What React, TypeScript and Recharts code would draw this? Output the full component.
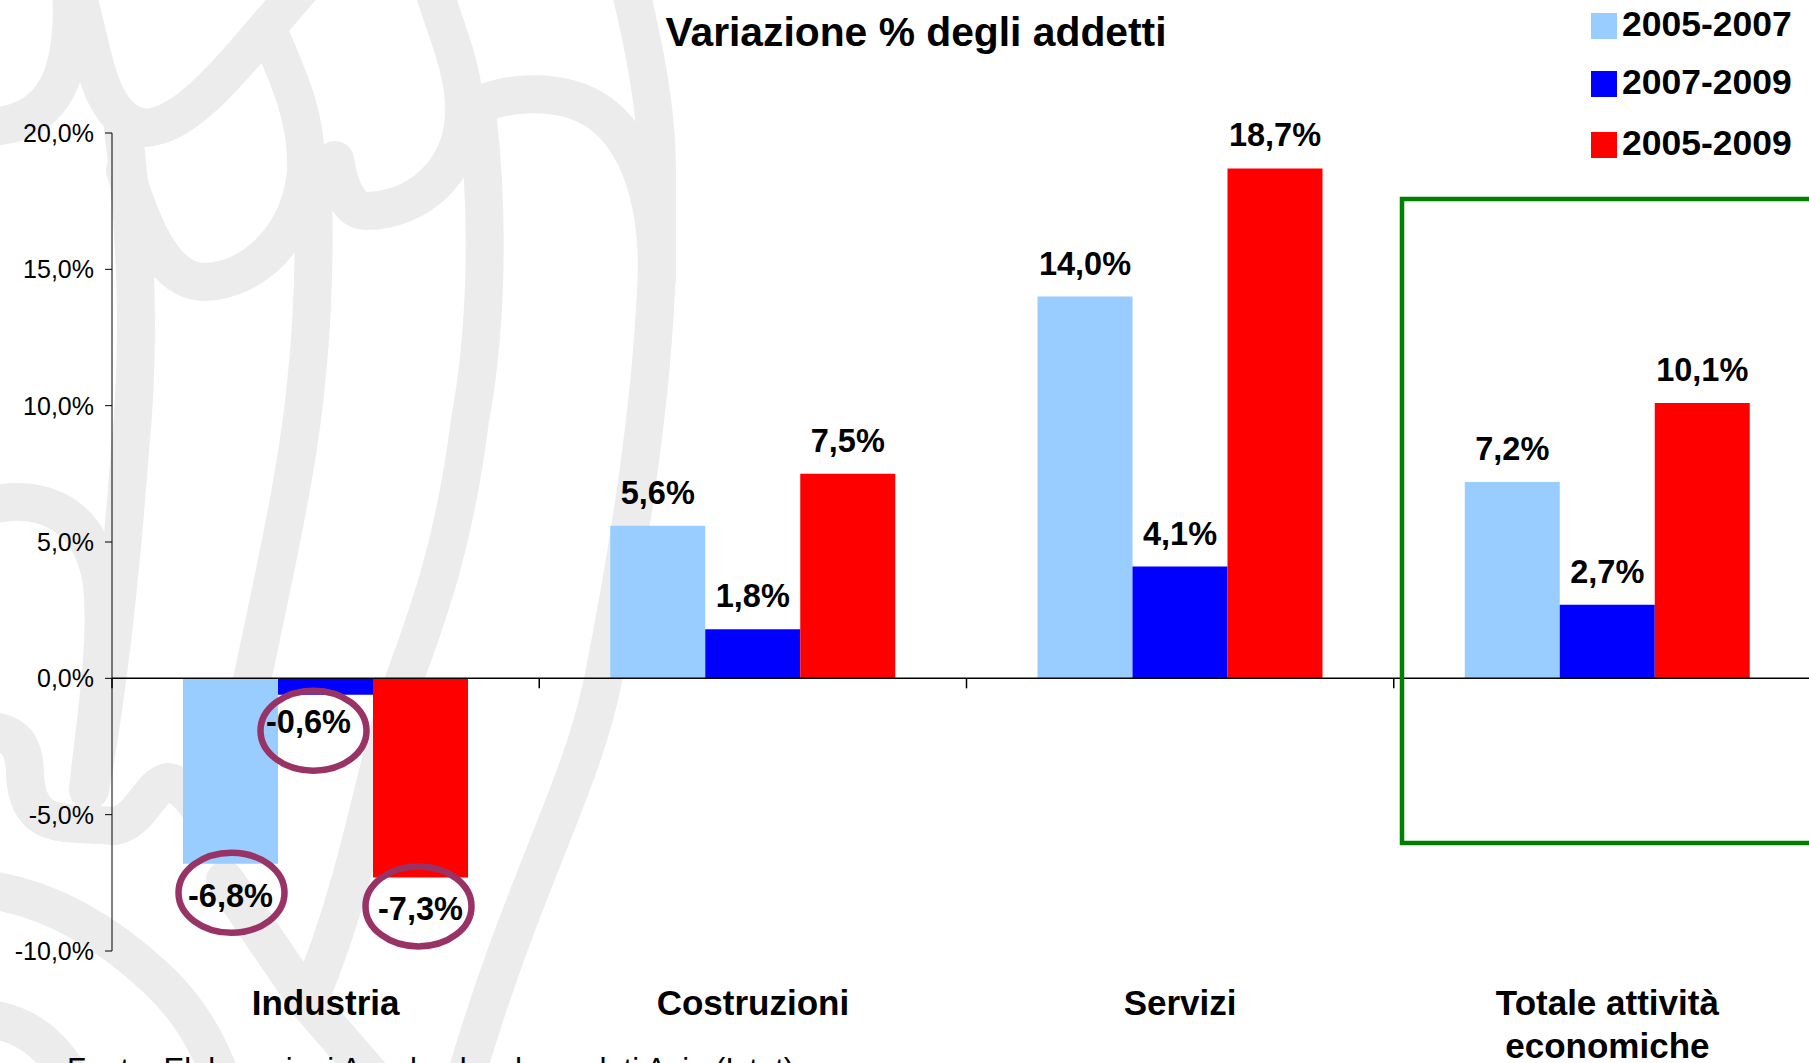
import React from 'react';
import { BarChart, Bar, XAxis, YAxis, LabelList, Legend, ReferenceLine } from 'recharts';

const categories = ['Industria', 'Costruzioni', 'Servizi', 'Totale attività economiche'];
const values0507 = [-6.8, 5.6, 14.0, 7.2];
const values0709 = [-0.6, 1.8, 4.1, 2.7];
const values0509 = [-7.3, 7.5, 18.7, 10.1];
const yTicks = [-10, -5, 0, 5, 10, 15, 20];

const chartData = categories.map((name, i) => ({
  name,
  a: values0507[i],
  b: values0709[i],
  c: values0509[i],
}));

const FONT = '"Liberation Sans", Arial, sans-serif';

const fmt = (v: number) => `${v.toFixed(1).replace('.', ',')}%`;

// background logo, only decoration
const watermark = [
  'M-25 127 C45 130 80 90 70 -25',
  'M72 -25 C95 50 95 120 145 128 C190 125 230 70 312 -25',
  'M122 120 C135 220 142 330 130 450 C122 560 110 680 90 790',
  'M125 170 C150 255 175 282 205 282 C255 280 300 235 306 172 C308 120 290 80 268 30',
  'M312 170 C316 250 312 330 306 383 C298 470 275 570 250 690',
  'M335 160 C340 190 350 211 366 211 C420 210 462 170 464 115 C466 70 445 30 429 -25',
  'M478 120 C490 230 485 340 470 420 C455 540 430 610 403 683 C378 750 360 880 311 995',
  'M470 110 C500 92 560 85 600 113 C650 150 660 230 656 290 C650 420 625 570 602 685 C580 790 520 890 465 1080',
  'M627 -25 C645 50 657 110 657 170 L657 280',
  'M-25 731 C15 728 25 745 25 775 C28 830 60 822 115 826 C140 822 150 785 168 782 C175 782 190 792 200 810',
  'M-25 888 C50 895 110 935 156 978 C185 1005 205 1035 222 1080',
  'M-25 1017 C20 1020 50 1040 72 1080',
  'M225 880 L310 1005 L375 1080',
  'M-25 510 C30 490 90 505 102 583 C108 650 95 720 88 790',
];

const ValueLabel = (props: any) => {
  const { x, y, width, height, value, index, circle } = props;
  const top = Math.min(y, y + height);
  const bottom = Math.max(y, y + height);
  const cx = x + width / 2;
  const neg = value < 0;
  // the small -0,6% label sits off centre, to the left of its bar
  const small = neg && Math.abs(value) < 1;
  const tx = small ? cx - 17 : cx;
  const ty = neg ? bottom + (small ? 27 : 32) : top - 33;
  return (
    <g key={index}>
      {neg && circle && (
        <ellipse
          cx={small ? cx - 12 : cx - (value < -7 ? 2 : -1)}
          cy={small ? bottom + 36 : bottom + 29}
          rx={53}
          ry={40}
          fill="none"
          stroke="#993366"
          strokeWidth={6.5}
        />
      )}
      <text x={tx} y={ty} textAnchor="middle" dominantBaseline="central" fontFamily={FONT} fontWeight={700} fontSize={32.5} fill="#000">
        {fmt(value)}
      </text>
    </g>
  );
};

const CategoryTick = ({ x, payload }: any) => {
  const words = String(payload.value).startsWith('Totale') ? ['Totale attività', 'economiche'] : [payload.value];
  return (
    <text x={x} textAnchor="middle" fontFamily={FONT} fontWeight={700} fontSize={35} fill="#000">
      {words.map((w: string, i: number) => (
        <tspan key={w} x={x} y={1015 + i * 43}>{w}</tspan>
      ))}
    </text>
  );
};

const ZeroLine = ({ x1, x2, y1 }: any) => {
  const step = (x2 - x1) / categories.length;
  return (
    <g stroke="#000" strokeWidth={1.5}>
      <line x1={x1} x2={x2} y1={y1} y2={y1} />
      {categories.map((c, i) => (
        <line key={c} x1={x1 + i * step} x2={x1 + i * step} y1={y1} y2={y1 + 10} />
      ))}
    </g>
  );
};

const legendRows = [
  { label: '2005-2007', color: '#99CCFF', top: 13 },
  { label: '2007-2009', color: '#0000FF', top: 71 },
  { label: '2005-2009', color: '#FF0000', top: 132 },
];

// zero height so the legend takes no room away from the plot
const LegendBox = () => (
  <div style={{ position: 'relative', width: 0, height: 0 }}>
    {legendRows.map(r => (
      <div key={r.label}>
        <div style={{ position: 'absolute', left: 0, top: r.top, width: 26, height: 26, background: r.color }} />
        <div style={{ position: 'absolute', left: 31, top: r.top - 9, fontFamily: FONT, fontWeight: 700, fontSize: 35.5, lineHeight: '40px', color: '#000', whiteSpace: 'nowrap' }}>
          {r.label}
        </div>
      </div>
    ))}
  </div>
);

export default function App() {
  return (
    <div style={{ position: 'absolute', left: 0, top: 0, width: 1809, height: 1063, overflow: 'hidden', background: '#fff' }}>
      <svg width={1809} height={1063} style={{ position: 'absolute', left: 0, top: 0 }}>
        {watermark.map((d, i) => (
          <path key={i} d={d} fill="none" stroke="#ececec" strokeWidth={38} strokeLinecap="round" />
        ))}
      </svg>
      <div style={{ position: 'absolute', left: 0, top: 0 }}>
        <BarChart
          width={1830}
          height={1063}
          data={chartData}
          margin={{ top: 133, right: 9, bottom: 0, left: 0 }}
          barGap={0}
          barCategoryGap={71}
        >
          <XAxis dataKey="name" height={112} axisLine={false} tickLine={false} interval={0} tick={<CategoryTick />} />
          <YAxis
            width={112}
            domain={[-10, 20]}
            ticks={yTicks}
            interval={0}
            tickSize={7}
            tickMargin={11}
            tickFormatter={fmt}
            stroke="#000"
            tick={{ fill: '#000', fontSize: 25, fontFamily: FONT }}
          />
          <Legend content={<LegendBox />} wrapperStyle={{ position: 'absolute', left: 1591, top: 0, width: 0, height: 0, bottom: 'auto' }} />
          <Bar dataKey="a" name="2005-2007" fill="#99CCFF" isAnimationActive={false}>
            <LabelList dataKey="a" content={<ValueLabel circle />} />
          </Bar>
          <Bar dataKey="b" name="2007-2009" fill="#0000FF" isAnimationActive={false}>
            <LabelList dataKey="b" content={<ValueLabel circle />} />
          </Bar>
          <Bar dataKey="c" name="2005-2009" fill="#FF0000" isAnimationActive={false}>
            <LabelList dataKey="c" content={<ValueLabel circle />} />
          </Bar>
          <ReferenceLine y={0} shape={<ZeroLine />} />
        </BarChart>
      </div>
      <svg width={1809} height={1063} style={{ position: 'absolute', left: 0, top: 0, pointerEvents: 'none' }}>
        <path d="M1830 199 L1402 199 L1402 843 L1830 843" fill="none" stroke="#008000" strokeWidth={4.5} />
      </svg>
      <div style={{ position: 'absolute', left: 0, width: 1832, top: 9, textAlign: 'center', fontFamily: FONT, fontWeight: 700, fontSize: 40.8, lineHeight: '46px', color: '#000', whiteSpace: 'nowrap' }}>
        Variazione % degli addetti
      </div>
      <div style={{ position: 'absolute', left: 67, top: 1052, fontFamily: FONT, fontSize: 31, lineHeight: '36px', color: '#000', whiteSpace: 'nowrap' }}>
        Fonte: Elaborazioni Assolombarda su dati Asia (Istat)
      </div>
    </div>
  );
}
